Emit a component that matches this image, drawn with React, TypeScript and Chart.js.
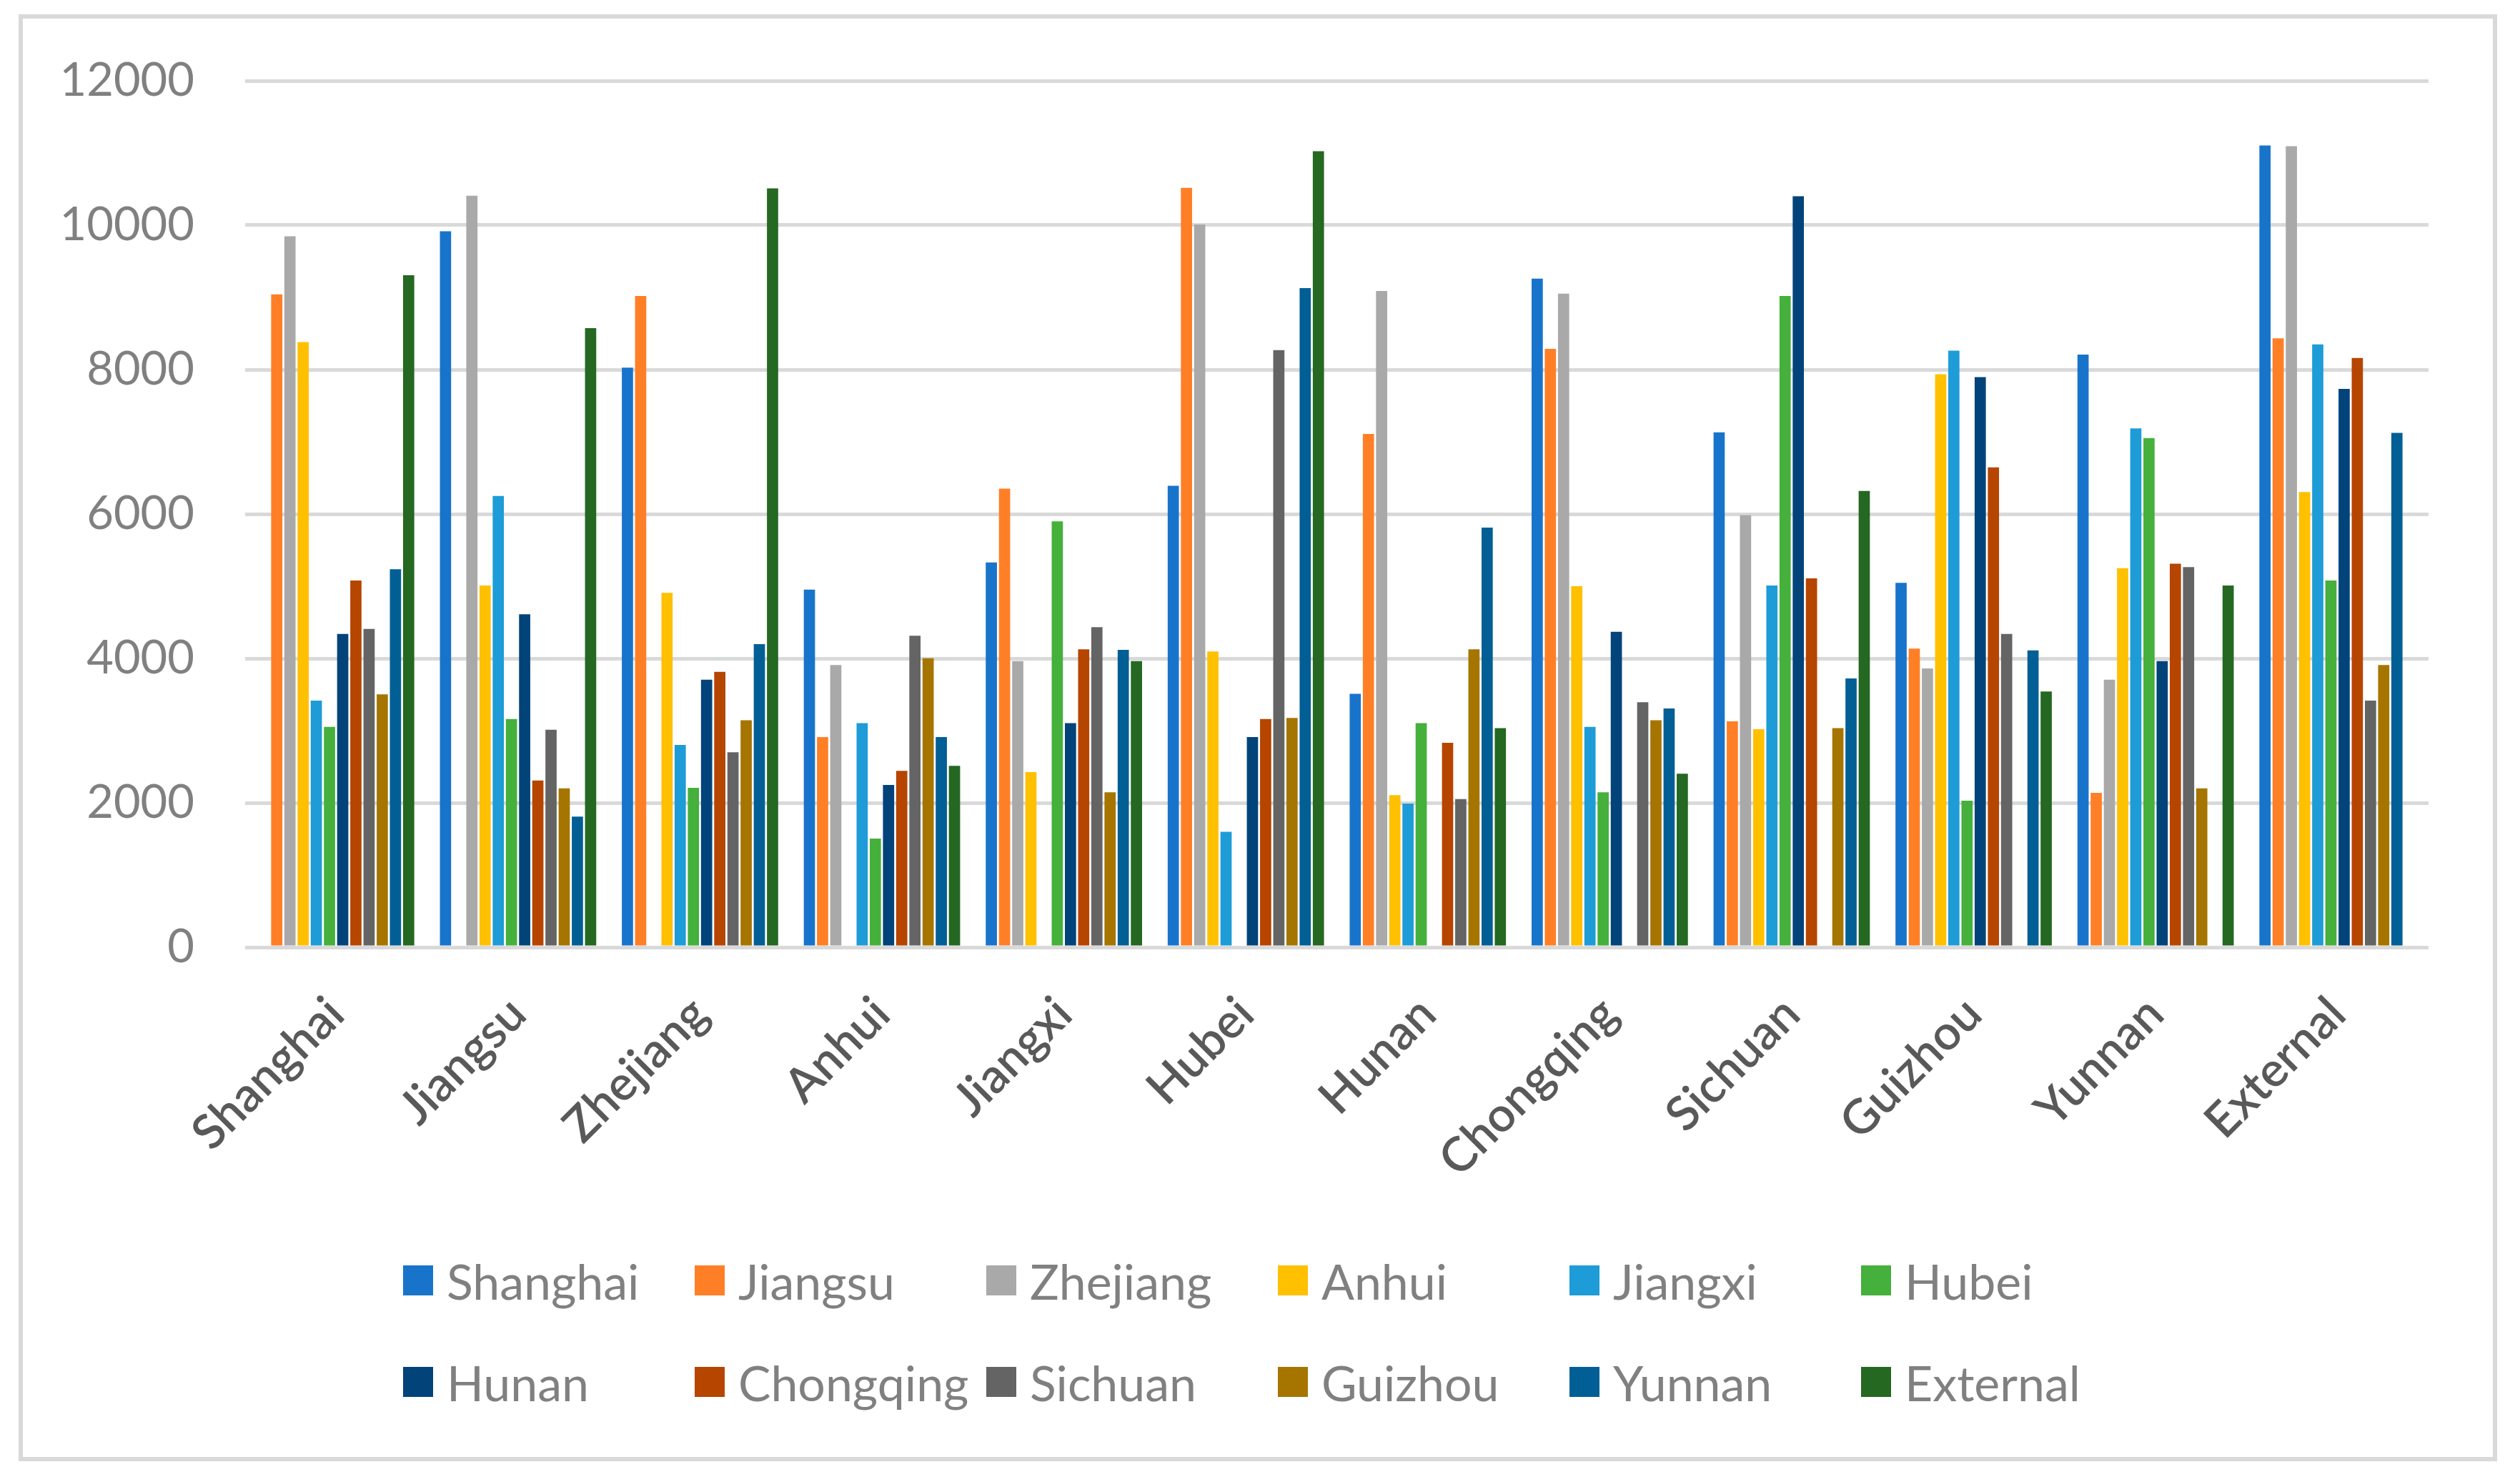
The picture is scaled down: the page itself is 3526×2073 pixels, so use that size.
import React, { useEffect, useRef } from "react";
import { Chart, registerables } from "chart.js";

Chart.register(...registerables);

const W = 3526;
const H = 2073;

const categories = [
  "Shanghai", "Jiangsu", "Zhejiang", "Anhui", "Jiangxi", "Hubei",
  "Hunan", "Chongqing", "Sichuan", "Guizhou", "Yunnan", "External",
];

const seriesNames = [
  "Shanghai", "Jiangsu", "Zhejiang", "Anhui", "Jiangxi", "Hubei",
  "Hunan", "Chongqing", "Sichuan", "Guizhou", "Yunnan", "External",
];

const seriesColors = [
  "#1874CB", "#FF7F27", "#A9A9A9", "#FFC000", "#1E9CD7", "#45B03B",
  "#02437A", "#B64500", "#646464", "#A57500", "#025F95", "#246822",
];

const shanghai = [null, 9917, 8028, 4954, 5329, 6390, 3511, 9261, 7131, 5048, 8208, 11103];
const jiangsu = [9043, null, 9019, 2910, 6351, 10517, 7108, 8286, 3129, 4135, 2138, 8434];
const zhejiang = [9846, 10408, null, 3909, 3963, 10010, 9090, 9051, 5984, 3862, 3706, 11095];
const anhui = [8380, 5009, 4908, null, 2426, 4096, 2107, 5001, 3019, 7935, 5251, 6304];
const jiangxi = [3417, 6250, 2801, 3105, null, 1599, 1990, 3051, 5009, 8262, 7186, 8348];
const hubei = [3051, 3160, 2208, 1506, 5898, null, 3105, 2146, 9019, 2029, 7053, 5079];
const hunan = [4338, 4611, 3706, 2247, 3105, 2910, null, 4369, 10400, 7896, 3963, 7732];
const chongqing = [5079, 2309, 3815, 2442, 4127, 3160, 2832, null, 5110, 6647, 5313, 8161];
const sichuan = [4408, 3012, 2700, 4315, 4432, 8270, 2052, 3394, null, 4338, 5266, 3417];
const guizhou = [3503, 2200, 3144, 4002, 2146, 3175, 4127, 3144, 3035, null, 2200, 3909];
const yunnan = [5235, 1810, 4198, 2910, 4120, 9129, 5813, 3308, 3722, 4112, null, 7123];
const external = [9308, 8575, 10510, 2512, 3963, 11024, 3035, 2403, 6320, 3542, 5009, null];

const seriesValues = [
  shanghai, jiangsu, zhejiang, anhui, jiangxi, hubei,
  hunan, chongqing, sichuan, guizhou, yunnan, external,
];

const yMin = 0;
const yMax = 12000;
const yStep = 2000;

export default function App() {
  const ref = useRef<HTMLCanvasElement>(null);

  useEffect(() => {
    const canvas = ref.current;
    if (!canvas) return;
    const chart = new Chart(canvas, {
      type: "bar",
      data: {
        labels: categories,
        datasets: seriesNames.map((name, i) => ({
          label: name,
          data: seriesValues[i],
          backgroundColor: seriesColors[i],
          borderWidth: 0,
          categoryPercentage: 0.87,
          barPercentage: 0.85,
        })),
      },
      options: {
        animation: false,
        responsive: false,
        devicePixelRatio: 1,
        layout: { padding: { left: 0, right: 128, top: 113, bottom: 0 } },
        plugins: {
          legend: { display: false },
          tooltip: { enabled: false },
        },
        scales: {
          x: {
            grid: { display: false },
            border: { display: false },
            ticks: {
              color: "#595959",
              font: { family: "Lato", size: 67, weight: 600 },
              minRotation: 45,
              maxRotation: 45,
              padding: 46,
              autoSkip: false,
            },
            afterFit: (s: any) => {
              s.height = H - 1325;
            },
          },
          y: {
            min: yMin,
            max: yMax,
            ticks: {
              stepSize: yStep,
              color: "#808080",
              font: { family: "Lato", size: 65 },
              padding: 71,
              callback: (v: any) => String(v),
            },
            grid: { color: "#d9d9d9", lineWidth: 5, drawTicks: false },
            border: { display: false },
            afterFit: (s: any) => {
              s.width = 343;
            },
          },
        },
      },
    });
    return () => chart.destroy();
  }, []);

  return (
    <div style={{ position: "fixed", left: 0, top: 0, width: W, height: H, background: "#fff", overflow: "hidden" }}>
      <canvas ref={ref} width={W} height={H} style={{ position: "absolute", left: 0, top: 0, width: W, height: H }} />
      <div
        style={{
          position: "absolute",
          left: 26,
          top: 20,
          width: 3468,
          height: 2024,
          boxSizing: "border-box",
          border: "6px solid #d9d9d9",
          pointerEvents: "none",
        }}
      />
      {seriesNames.map((name, i) => {
        const col = i % 6;
        const row = Math.floor(i / 6);
        return (
          <div
            key={name}
            style={{
              position: "absolute",
              left: 564 + col * 408,
              top: 1791 + row * 142 - 50,
              height: 100,
              display: "flex",
              alignItems: "center",
              whiteSpace: "nowrap",
              fontFamily: "Lato",
              fontSize: 68,
              color: "#808080",
            }}
          >
            <span style={{ display: "inline-block", width: 42, height: 42, background: seriesColors[i], marginRight: 19 }} />
            <span>{name}</span>
          </div>
        );
      })}
    </div>
  );
}
